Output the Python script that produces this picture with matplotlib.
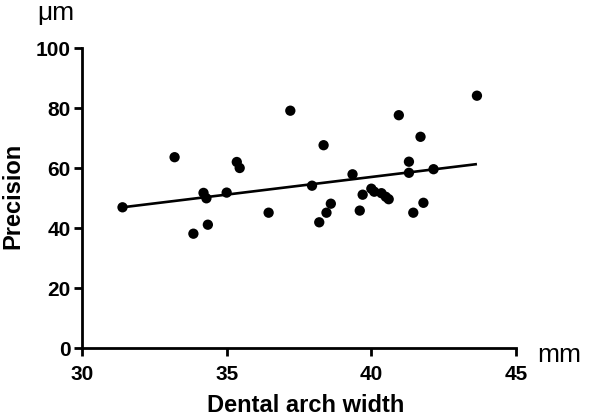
import matplotlib
matplotlib.use("Agg")
import matplotlib.pyplot as plt

# Data
arch_width = [31.4, 33.2, 33.85, 34.35, 34.2, 34.3, 35.0, 35.35, 35.45, 36.45,
              37.2, 38.35, 37.95, 38.6, 38.45, 38.2, 39.35, 39.7, 40.0, 40.1,
              40.35, 40.5, 40.6, 39.6, 40.95, 41.7, 41.3, 41.3, 42.15, 41.45,
              41.8, 43.65]
precision = [46.9, 63.6, 38.1, 41.1, 51.7, 49.9, 51.8, 62.0, 60.0, 45.1,
             79.1, 67.6, 54.1, 48.1, 45.1, 41.9, 57.9, 51.1, 53.1, 52.1,
             51.6, 50.4, 49.6, 45.8, 77.6, 70.4, 62.1, 58.4, 59.6, 45.1,
             48.4, 84.1]
fit_x = [31.4, 43.65]
fit_y = [46.9, 61.3]
x_ticks = [30, 35, 40, 45]
y_ticks = [0, 20, 40, 60, 80, 100]

plt.rcParams['font.family'] = ['Liberation Sans', 'DejaVu Sans']

fig = plt.figure(figsize=(6.01, 4.17), dpi=100)
W, H = 601, 417
ax = fig.add_axes([82 / W, 1 - 348 / H, (516 - 82) / W, (348 - 48) / H])

ax.plot(fit_x, fit_y, color='black', lw=1.9, solid_capstyle='butt', zorder=2)
ax.scatter(arch_width, precision, s=55, color='black', edgecolors='none', zorder=3)

ax.set_xlim(30, 45)
ax.set_ylim(0, 100)
ax.set_xticks(x_ticks)
ax.set_yticks(y_ticks)
for s in ['top', 'right']:
    ax.spines[s].set_visible(False)
for s in ['left', 'bottom']:
    ax.spines[s].set_linewidth(2)
    ax.spines[s].set_color('black')
    ax.spines[s].set_capstyle('projecting')
ax.tick_params(axis='both', width=2, length=5.8, color='black')
ax.tick_params(axis='x', pad=6.2)
ax.tick_params(axis='y', pad=2.2)
for lab in ax.get_xticklabels() + ax.get_yticklabels():
    lab.set_fontsize(15)
    lab.set_fontweight('bold')

fig.text(306 / W, 1 - 406 / H, 'Dental arch width', fontsize=17,
         fontweight='bold', ha='center', va='center')
fig.text(13 / W, 1 - 196 / H, 'Precision', fontsize=17, fontweight='bold',
         ha='center', va='center', rotation=90)

fig.text(56 / W, 1 - 13 / H, 'μm', fontsize=19, ha='center', va='center')
fig.text(559 / W, 1 - 355 / H, 'mm', fontsize=19, ha='center', va='center')

fig.savefig('out.png', dpi=100)
